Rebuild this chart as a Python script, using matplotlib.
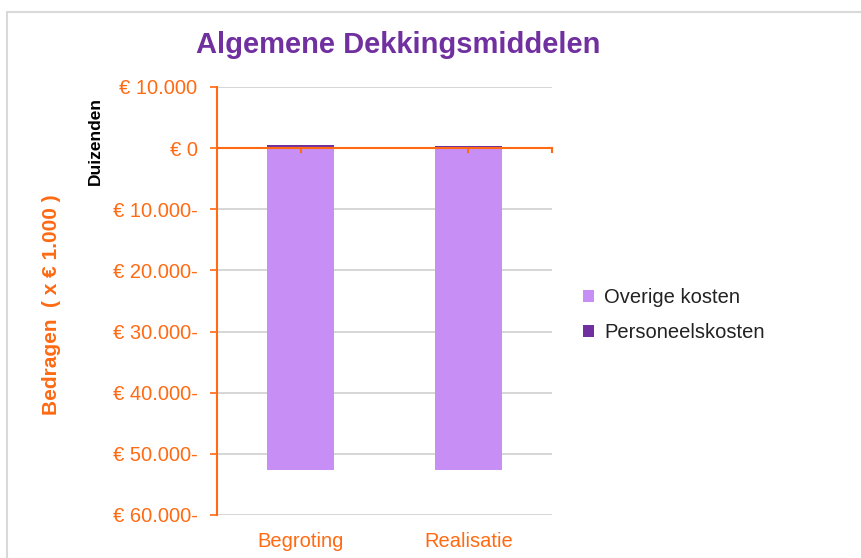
import matplotlib
matplotlib.use("Agg")
import matplotlib.pyplot as plt
from matplotlib.patches import Rectangle
from matplotlib.ticker import FuncFormatter, FixedLocator

plt.rcParams['font.family'] = ['Liberation Sans', 'DejaVu Sans']

# data (x € 1.000)
categories = ['Begroting', 'Realisatie']
overige_kosten = [-52600, -52600]
personeelskosten = [480, 330]
y_ticks = [10000, 0, -10000, -20000, -30000, -40000, -50000, -60000]

orange = '#FF6A13'
light_purple = '#C78EF5'
dark_purple = '#7030A0'

fig = plt.figure(figsize=(8.62, 5.58), dpi=100)
# chart frame
fig.add_artist(Rectangle((7 / 862, -0.1), 1.2, (558 - 12) / 558 + 0.1,
                         transform=fig.transFigure, fill=False,
                         edgecolor='#D9D9D9', linewidth=1.5))

ax = fig.add_axes([217 / 862, 1 - 515 / 558, (552 - 217) / 862, (515 - 87) / 558])

x = range(len(categories))
ax.bar(x, overige_kosten, width=0.4, color=light_purple, label='Overige kosten', zorder=2)
ax.bar(x, personeelskosten, width=0.4, color=dark_purple, label='Personeelskosten', zorder=2)

ax.set_xlim(-0.5, 1.5)
ax.set_ylim(-60000, 10000)
ax.set_yticks(y_ticks)


def euro(v, pos):
    if v == 0:
        return '€ 0'
    s = f'{abs(int(v)):,}'.replace(',', '.')
    return f'€ {s}-' if v < 0 else f'€ {s}'


ax.yaxis.set_major_formatter(FuncFormatter(euro))
ax.yaxis.grid(True, color='#D0D0D0', linewidth=1.2, zorder=0)
ax.set_axisbelow(True)
ax.tick_params(axis='y', colors=orange, labelsize=14.5, length=5, width=1.2, pad=9)

for side in ['top', 'right', 'bottom']:
    ax.spines[side].set_visible(False)
ax.spines['left'].set_color(orange)
ax.spines['left'].set_linewidth(1.5)

# category axis drawn along zero
ax.axhline(0, color=orange, linewidth=1.5, zorder=3)
ax.xaxis.set_major_locator(FixedLocator([]))
for xc in [0, 1, 1.5]:
    ax.plot([xc, xc], [0, -600], color=orange, linewidth=1.5, zorder=3, clip_on=False)
for i, c in enumerate(categories):
    ax.text(i, -64300, c, color=orange, fontsize=14.5, ha='center', va='center')

fig.text(398 / 862, 1 - 45 / 558, 'Algemene Dekkingsmiddelen', color=dark_purple,
         fontsize=21, fontweight='bold', ha='center', va='center')
fig.text(52 / 862, 1 - 305 / 558, 'Bedragen  ( x € 1.000 )', color=orange,
         fontsize=15, fontweight='bold', rotation=90, ha='center', va='center')
fig.text(95 / 862, 1 - 141 / 558, 'Duizenden', color='black',
         fontsize=12.5, fontweight='bold', rotation=90, ha='center', va='center')

ax.legend(loc='center left', bbox_to_anchor=(565 / 862, 1 - 315 / 558),
          bbox_transform=fig.transFigure, frameon=False, fontsize=14.5,
          handlelength=0.55, handleheight=0.55, handletextpad=0.5, labelspacing=0.8,
          labelcolor='#222222')

fig.savefig('out.png', dpi=100)
